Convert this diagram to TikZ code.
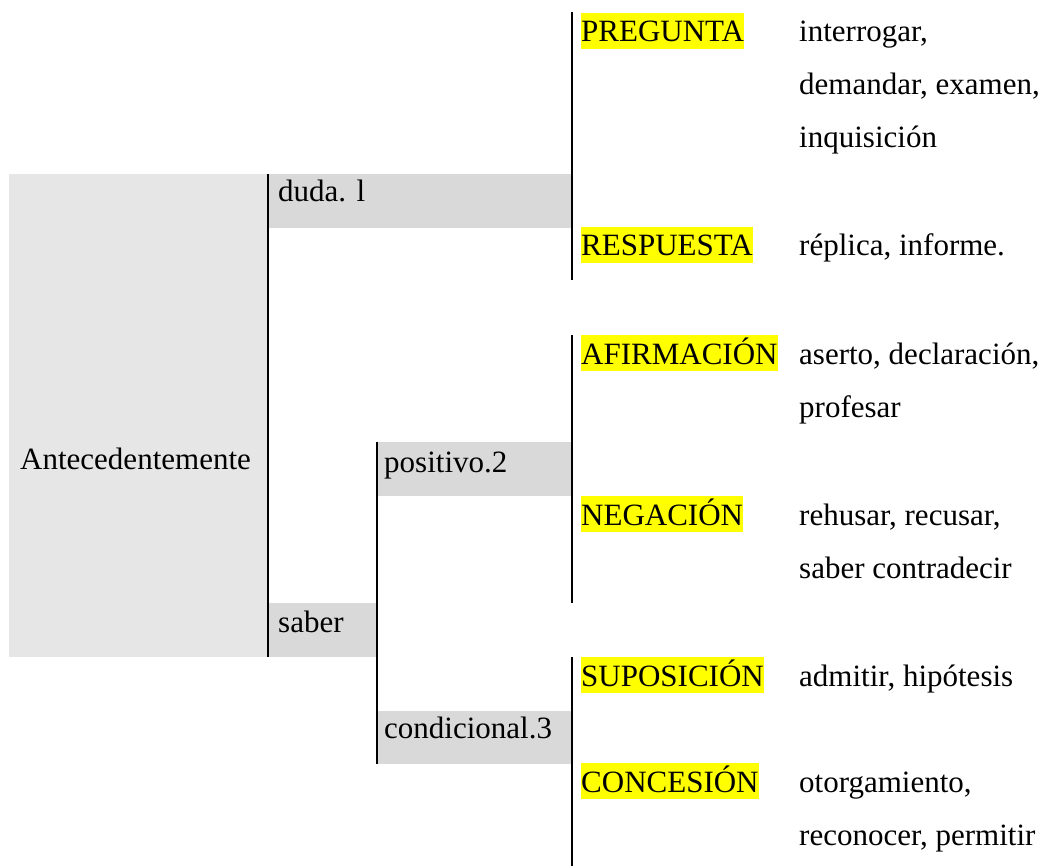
\documentclass[tikz,border=0pt]{standalone}
\usepackage{fontspec}
\setmainfont{Liberation Serif}
\definecolor{lightbox}{HTML}{E6E6E6}
\definecolor{midbox}{HTML}{D9D9D9}
\definecolor{hl}{HTML}{FFFF00}
\tikzset{
  every node/.style={font=\fontsize{31}{53}\selectfont},
  boxa/.style={fill=lightbox, draw=none, inner sep=0, anchor=north west},
  boxb/.style={fill=midbox, draw=none, inner sep=0, anchor=north west},
  bar/.style={line width=2pt, black},
  txt/.style={inner sep=0, anchor=base west},
  tag/.style={inner sep=0, anchor=base west, fill=hl, text height=29pt, text depth=7pt},
}
\newcommand{\lines}[1]{\begin{tabular}[t]{@{}l@{}}#1\end{tabular}}
\begin{document}
\begin{tikzpicture}[x=1pt,y=-1pt]
\useasboundingbox (0,0) rectangle (1048,866);
% boxes
\node[boxa, minimum width=259pt, minimum height=483pt] (ante) at (9,174) {};
\node[boxb, minimum width=304pt, minimum height=54pt] (duda) at (268,174) {};
\node[boxb, minimum width=109pt, minimum height=54pt] (saber) at (268,603) {};
\node[boxb, minimum width=195pt, minimum height=54pt] (posit) at (377,442) {};
\node[boxb, minimum width=195pt, minimum height=53pt] (condi) at (377,711) {};
% box texts
\node[txt] (tante) at (20,469) {Antecedentemente};
\node[txt] (tduda) at (278,202) {duda. l};
\node[txt] (tsaber) at (278,632) {saber};
\node[txt] (tposit) at (384,472) {positivo.2};
\node[txt] (tcondi) at (384,738) {condicional.3};
% bracket coordinates
\coordinate (b1t) at (572,12);
\coordinate (b1b) at (572,280);
\coordinate (b2t) at (572,335);
\coordinate (b2b) at (572,603);
\coordinate (b3t) at (572,657);
\coordinate (b3b) at (572,866);
% vertical bars
\draw[bar] (ante.north east) -- (ante.south east);
\draw[bar] (posit.north west) -- (condi.south west);
\draw[bar] (b1t) -- (b1b);
\draw[bar] (b2t) -- (b2b);
\draw[bar] (b3t) -- (b3b);
% highlighted tags
\node[tag] (preg) at (581,42) {PREGUNTA};
\node[tag] (resp) at (581,256) {RESPUESTA};
\node[tag] (afir) at (581,364) {AFIRMACIÓN};
\node[tag] (nega) at (581,525) {NEGACIÓN};
\node[tag] (supo) at (581,686) {SUPOSICIÓN};
\node[tag] (conc) at (581,792) {CONCESIÓN};
% synonyms
\node[txt] (spreg) at (799,42) {\lines{interrogar,\\demandar, examen,\\inquisición}};
\node[txt] (sresp) at (799,256) {réplica, informe.};
\node[txt] (safir) at (799,364) {\lines{aserto, declaración,\\profesar}};
\node[txt] (snega) at (799,525) {\lines{rehusar, recusar,\\saber contradecir}};
\node[txt] (ssupo) at (799,686) {admitir, hipótesis};
\node[txt] (sconc) at (799,792) {\lines{otorgamiento,\\reconocer, permitir}};
\end{tikzpicture}
\end{document}
